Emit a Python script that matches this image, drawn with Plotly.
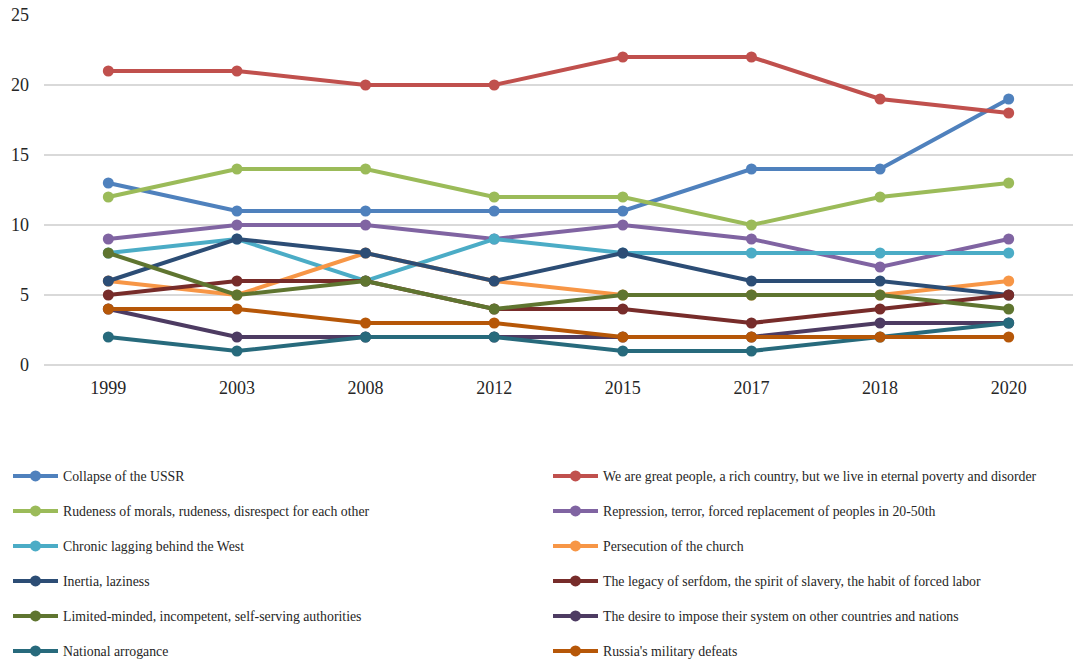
import plotly.graph_objects as go

years = ["1999", "2003", "2008", "2012", "2015", "2017", "2018", "2020"]

series_names = [
    "Collapse of the USSR",
    "We are great people, a rich country, but we live in eternal poverty and disorder",
    "Rudeness of morals, rudeness, disrespect for each other",
    "Repression, terror, forced replacement of peoples in 20-50th",
    "Chronic lagging behind the West",
    "Persecution of the church",
    "Inertia, laziness",
    "The legacy of serfdom, the spirit of slavery, the habit of forced labor",
    "Limited-minded, incompetent, self-serving authorities",
    "The desire to impose their system on other countries and nations",
    "National arrogance",
    "Russia's military defeats",
]

collapse_ussr = [13, 11, 11, 11, 11, 14, 14, 19]
great_people = [21, 21, 20, 20, 22, 22, 19, 18]
rudeness = [12, 14, 14, 12, 12, 10, 12, 13]
repression = [9, 10, 10, 9, 10, 9, 7, 9]
chronic_lagging = [8, 9, 6, 9, 8, 8, 8, 8]
persecution_church = [6, 5, 8, 6, 5, 5, 5, 6]
inertia = [6, 9, 8, 6, 8, 6, 6, 5]
serfdom = [5, 6, 6, 4, 4, 3, 4, 5]
limited_authorities = [8, 5, 6, 4, 5, 5, 5, 4]
impose_system = [4, 2, 2, 2, 2, 2, 3, 3]
national_arrogance = [2, 1, 2, 2, 1, 1, 2, 3]
military_defeats = [4, 4, 3, 3, 2, 2, 2, 2]

all_values = [
    collapse_ussr, great_people, rudeness, repression, chronic_lagging,
    persecution_church, inertia, serfdom, limited_authorities,
    impose_system, national_arrogance, military_defeats,
]

colors = [
    "#4f81bd", "#c0504d", "#9bbb59", "#8064a2", "#4bacc6", "#f79646",
    "#2c4d75", "#772c2a", "#5f7530", "#4d3b62", "#276a7c", "#b65708",
]

FONT = "Liberation Serif, Times New Roman, serif"

fig = go.Figure()

# layout geometry (pixels)
W, H = 1073, 660
ml, mr, mt, mb = 44, 0, 15, 295
plot_w = W - ml - mr
plot_h = H - mt - mb

row_y_px = [476, 511, 546, 581, 616, 651]
col_x_px = [8, 548]

legend_layouts = {}
for i, (name, vals, col) in enumerate(zip(series_names, all_values, colors)):
    lname = "legend" if i == 0 else f"legend{i + 1}"
    fig.add_trace(go.Scatter(
        x=years, y=vals, name=name, mode="lines+markers",
        line=dict(color=col, width=4),
        marker=dict(color=col, size=11),
        legend=lname,
    ))
    row, c = divmod(i, 2)
    legend_layouts[lname] = dict(
        x=(col_x_px[c] - ml) / plot_w,
        y=(H - mb - row_y_px[row]) / plot_h,
        xanchor="left", yanchor="middle",
        bgcolor="rgba(0,0,0,0)",
        borderwidth=0,
        itemwidth=45,
        font=dict(family=FONT, size=13.8, color="#262626"),
    )

fig.update_layout(
    width=W, height=H,
    margin=dict(l=ml, r=mr, t=mt, b=mb, autoexpand=False),
    paper_bgcolor="white",
    plot_bgcolor="white",
    font=dict(family=FONT, color="#262626"),
    showlegend=True,
    **legend_layouts,
)

fig.update_xaxes(
    type="category",
    range=[-0.5, 7.5],
    showgrid=False,
    showline=False,
    zeroline=False,
    automargin=False,
    tickfont=dict(family=FONT, size=18, color="#262626"),
    ticks="",
    ticklabelstandoff=10,
)
fig.update_yaxes(
    range=[0, 25],
    dtick=5,
    showgrid=True,
    gridcolor="#d9d9d9",
    gridwidth=1.5,
    zeroline=True,
    zerolinecolor="#d9d9d9",
    zerolinewidth=1.5,
    showline=False,
    automargin=False,
    tickfont=dict(family=FONT, size=18, color="#262626"),
    ticks="",
    ticklabelstandoff=14,
)

fig.write_html(
    "out.html",
    config={"displayModeBar": False},
    post_script="document.body.style.margin='0';document.body.style.overflow='hidden';",
)
